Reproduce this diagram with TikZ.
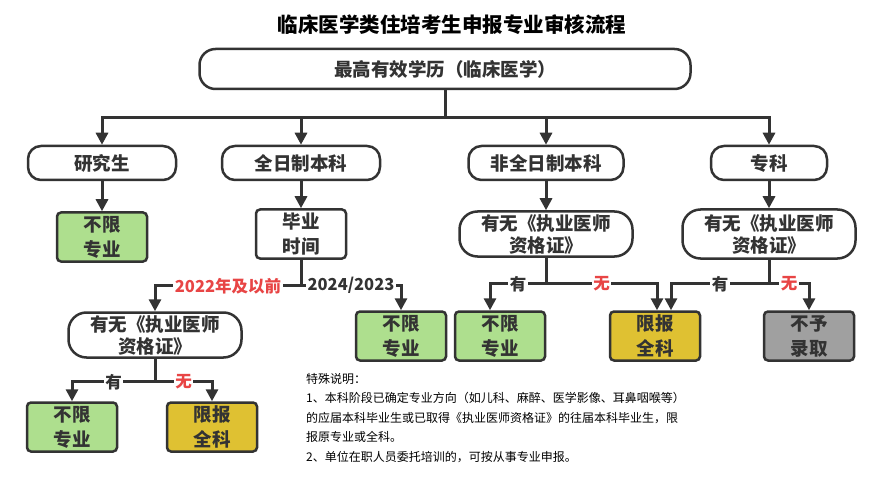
\documentclass[tikz,border=0pt]{standalone}
\usepackage{fontspec}
\setmainfont{Noto Sans CJK SC}
\usepackage{xcolor}
\usepackage{tikz}
\usetikzlibrary{arrows.meta}

\definecolor{inkgray}{HTML}{333333}
\definecolor{okgreen}{HTML}{AEDF8E}
\definecolor{limgold}{HTML}{DFC132}
\definecolor{nogray}{HTML}{A0A0A0}
\definecolor{warnred}{HTML}{E84545}

\newcommand{\ttlfont}{\fontsize{20.5}{24}\selectfont\bfseries}
\newcommand{\bxfont}{\fontsize{18.5}{25}\selectfont\bfseries}
\newcommand{\zgfont}{\fontsize{18.5}{22}\selectfont\bfseries}
\newcommand{\lblfont}{\fontsize{16.5}{20}\selectfont\bfseries}
\newcommand{\notefont}{\fontsize{12}{19.5}\selectfont}

\begin{document}
\begin{tikzpicture}[x=1pt, y=-1pt,
  pill/.style={draw=inkgray, line width=2.5pt, fill=white, rounded corners=13pt,
               minimum height=34pt, inner sep=0pt, font=\bxfont, text=inkgray, align=center},
  zgbox/.style={pill, rounded corners=18pt, minimum width=173pt, minimum height=45pt, font=\zgfont},
  resbox/.style={draw=inkgray, line width=2.5pt, rounded corners=4pt, minimum width=90pt,
                 minimum height=49pt, inner sep=0pt, font=\bxfont, text=inkgray, align=center},
  arr/.style={draw=inkgray, line width=3pt, -{Triangle[length=12pt, width=12pt]}},
  lbl/.style={fill=white, inner sep=1.5pt, font=\lblfont, text=inkgray},
  redlbl/.style={lbl, text=warnred}
]
  \fill[white] (0,0) rectangle (882,486);
  \useasboundingbox (0,0) rectangle (882,486);

  % title and top box
  \node[font=\ttlfont, text=black] (title) at (452,25) {临床医学类住培考生申报专业审核流程};
  \node[pill, minimum width=491pt, minimum height=40pt, rounded corners=16pt] (top) at (445,69)
    {最高有效学历（临床医学）};

  % degree row
  \node[pill, minimum width=148pt] (yjs) at (102,163) {研究生};
  \node[pill, minimum width=158pt] (qrz) at (301,163) {全日制本科};
  \node[pill, minimum width=155pt] (fqrz) at (546,163) {非全日制本科};
  \node[pill, minimum width=116pt] (zk) at (769,163) {专科};

  % second row
  \node[resbox, fill=okgreen] (bx1) at (102,237) {不限\\专业};
  \node[resbox, fill=white] (bysj) at (301,234) {毕业\\时间};
  \node[zgbox] (zg2) at (546,234) {有无《执业医师\\资格证》};
  \node[zgbox, minimum height=49pt] (zg3) at (769,234) {有无《执业医师\\资格证》};

  % third row
  \node[zgbox] (zg1) at (155,335) {有无《执业医师\\资格证》};
  \node[resbox, fill=okgreen] (bx2) at (401,336) {不限\\专业};
  \node[resbox, fill=okgreen] (bx4) at (500,336) {不限\\专业};
  \node[resbox, fill=limgold] (xb2) at (655,336) {限报\\全科};
  \node[resbox, fill=nogray] (byl) at (809,336) {不予\\录取};

  % bottom row
  \node[resbox, fill=okgreen] (bx3) at (72,427) {不限\\专业};
  \node[resbox, fill=limgold] (xb1) at (212,427) {限报\\全科};

  % notes
  \node[font=\notefont, text=black, align=left, anchor=north west, inner sep=0pt] (note) at (306,373)
    {特殊说明：\\
     1、本科阶段已确定专业方向（如儿科、麻醉、医学影像、耳鼻咽喉等）\\
     的应届本科毕业生或已取得《执业医师资格证》的往届本科毕业生，限\\
     报原专业或全科。\\
     2、单位在职人员委托培训的，可按从事专业申报。};

  % Arrows
  \draw[arr] (top.south) -- ++(0,27) -| (yjs.north);
  \draw[arr] (top.south) -- ++(0,27) -| (qrz.north);
  \draw[arr] (top.south) -- ++(0,27) -| (fqrz.north);
  \draw[arr] (top.south) -- ++(0,27) -| (zk.north);

  \draw[arr] (yjs.south) -- (bx1.north);
  \draw[arr] (qrz.south) -- (bysj.north);
  \draw[arr] (fqrz.south) -- (zg2.north);
  \draw[arr] (zk.south) -- (zg3.north);

  \draw[arr] (bysj.south) -- ++(0,26) -| node[redlbl, pos=0.25] {2022年及以前} (zg1.north);
  \draw[arr] (bysj.south) -- ++(0,26) -| node[lbl, pos=0.25] {2024/2023} (bx2.north);

  \draw[arr] (zg1.south) -- ++(0,23) -| node[lbl, pos=0.25] {有} (bx3.north);
  \draw[arr] (zg1.south) -- ++(0,23) -| node[redlbl, pos=0.25] {无} (xb1.north);

  \draw[arr] (zg2.south) -- ++(0,26) -| node[lbl, pos=0.25] {有} ([xshift=-10pt]bx4.north);
  \draw[arr] (zg2.south) -- ++(0,26) -| node[redlbl, pos=0.25] {无} ([xshift=2pt]xb2.north);

  \draw[arr] (zg3.south) -- ++(0,24) -| node[lbl, pos=0.25] {有} ([xshift=16pt]xb2.north);
  \draw[arr] (zg3.south) -- ++(0,24) -| node[redlbl, pos=0.25] {无} (byl.north);
\end{tikzpicture}
\end{document}
